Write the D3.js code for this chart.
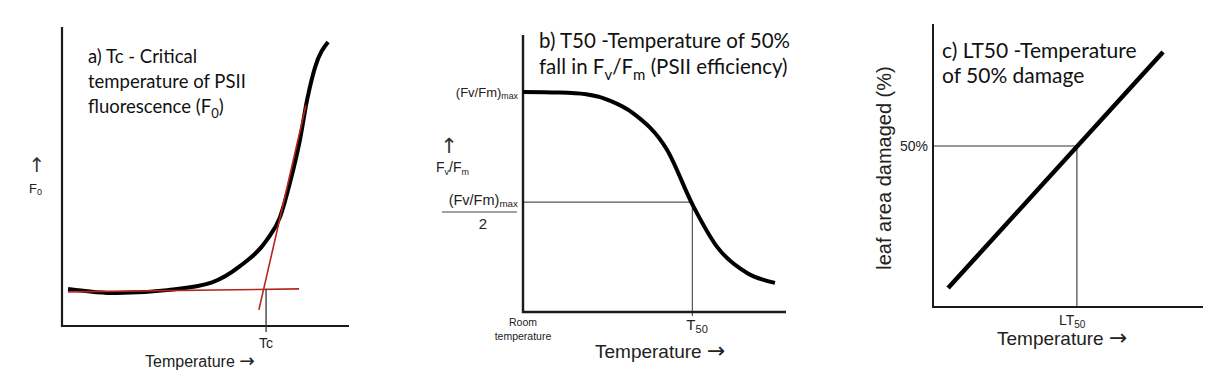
<!DOCTYPE html>
<html lang="en">
<head>
<meta charset="UTF-8">
<title>Heat tolerance measures</title>
<script src="https://d3js.org/d3.v7.min.js"></script>
<style>
  body { margin: 0; background: #fff; }
  .title { font-family: Lato, "Open Sans", sans-serif; fill: #111; }
  .lab { font-family: "Liberation Sans", Arial, sans-serif; fill: #222; }
  .arr { font-family: "DejaVu Sans", sans-serif; }
</style>
</head>
<body>
<svg width="1210" height="374"></svg>
<script>
// panel a : F0 rise with temperature (x, y in arbitrary units 0-100)
const curveA = [[2.1,12.4],[19,11.0],[36.6,12.0],[52.3,14.6],[62,20.0],[71.4,28.8],
                [76,36.5],[79.4,47.8],[82.9,62.2],[85.4,75.6],[88.2,86.6],[92.7,95]];
const baseLineA = [[2.1,11.4],[82.6,12.4]];
const steepLineA = [[68.6,5.4],[85.0,73.9]];
const tcValue = 71.1;

// panel b : Fv/Fm decline
const curveB = [[0,79.4],[14,79.2],[24,78.6],[33,76.3],[41.8,71.8],[54.8,58.5],
                [64.6,38.5],[73.8,23.5],[85.2,14.1],[95.8,10.5]];
const fvfmMax = 79.4;
const t50Value = 64.4;

// panel c : leaf damage
const lineC = [[5.6,5.9],[85.2,79.2]];
const damageHalf = 50;
const lt50Value = 53.3;

const UP = "\u2191\uFE0E", RIGHT = "\u2192\uFE0E";

const svg = d3.select("svg");
svg.append("rect").attr("width", 1210).attr("height", 374).attr("fill", "#fff");

const line = (x, y) => d3.line().x(d => x(d[0])).y(d => y(d[1]));

function axes(g, x, y, w) {
  const [x0] = x.range(), [y0, y1] = y.range();
  g.append("path")
    .attr("d", `M${x0},${y1}V${y0}H${x.range()[1]}`)
    .attr("fill", "none").attr("stroke", "#1a1a1a").attr("stroke-width", w);
}

function tempLabel(g, xx, yy, fs) {
  const t = g.append("text").attr("class", "lab").attr("x", xx).attr("y", yy).attr("font-size", fs);
  t.append("tspan").text("Temperature ");
  t.append("tspan").attr("class", "arr").attr("font-size", fs * 1.15).style("fill", "#222").text(RIGHT);
}

function upArrow(g, xx, yy, fs) {
  g.append("text").attr("class", "arr").attr("x", xx).attr("y", yy)
    .attr("text-anchor", "middle").attr("font-size", fs).style("fill", "#333").text(UP);
}

// ---------- a ----------
{
  const x = d3.scaleLinear().domain([0, 100]).range([62, 349]);
  const y = d3.scaleLinear().domain([0, 100]).range([326, 27]);
  const g = svg.append("g");
  axes(g, x, y, 2.2);
  g.append("path").datum(curveA)
    .attr("d", line(x, y).curve(d3.curveMonotoneX))
    .attr("fill", "none").attr("stroke", "#000").attr("stroke-width", 4);
  [baseLineA, steepLineA].forEach(l => g.append("path").datum(l)
    .attr("d", line(x, y)).attr("stroke", "#b5261e").attr("stroke-width", 1.6));
  g.append("line").attr("x1", x(tcValue)).attr("x2", x(tcValue))
    .attr("y1", y(12.3)).attr("y2", 332).attr("stroke", "#333").attr("stroke-width", 1.3);

  const t = g.append("text").attr("class", "title").attr("font-size", 18.5);
  t.append("tspan").attr("x", 88).attr("y", 63).text("a) Tc - Critical");
  t.append("tspan").attr("x", 88).attr("y", 88).text("temperature of PSII");
  t.append("tspan").attr("x", 88).attr("y", 113).text("fluorescence (F");
  t.append("tspan").attr("dy", 5).attr("font-size", 13).text("0");
  t.append("tspan").attr("dy", -5).text(")");

  upArrow(g, 37, 172, 20);
  const f0 = g.append("text").attr("class", "lab").attr("x", 29).attr("y", 193).attr("font-size", 13);
  f0.append("tspan").text("F");
  f0.append("tspan").attr("dy", 2).attr("font-size", 9).text("0");

  g.append("text").attr("class", "lab").attr("x", x(tcValue)).attr("y", 348)
    .attr("text-anchor", "middle").attr("font-size", 14).text("Tc");
  tempLabel(g, 145, 367, 16);
}

// ---------- b ----------
{
  const x = d3.scaleLinear().domain([0, 100]).range([523, 786]);
  const y = d3.scaleLinear().domain([0, 100]).range([312, 35]);
  const g = svg.append("g");
  g.append("path")
    .attr("d", `M${x(0)},${y(fvfmMax / 2)}H${x(t50Value)}V${y(0) + 4}`)
    .attr("fill", "none").attr("stroke", "#555").attr("stroke-width", 1.2);
  axes(g, x, y, 2.4);
  g.append("path").datum(curveB)
    .attr("d", line(x, y).curve(d3.curveMonotoneX))
    .attr("fill", "none").attr("stroke", "#000").attr("stroke-width", 4);

  const t = g.append("text").attr("class", "title").attr("font-size", 20.5);
  t.append("tspan").attr("x", 539).attr("y", 48).text("b) T50 -Temperature of 50%");
  t.append("tspan").attr("x", 539).attr("y", 74).text("fall in F");
  t.append("tspan").attr("dy", 6).attr("font-size", 15).text("v");
  t.append("tspan").attr("dy", -6).text("/F");
  t.append("tspan").attr("dy", 6).attr("font-size", 15).text("m");
  t.append("tspan").attr("dy", -6).text(" (PSII efficiency)");

  const maxLab = (yy, fs) => {
    const tx = g.append("text").attr("class", "lab").attr("x", 518).attr("y", yy)
      .attr("text-anchor", "end").attr("font-size", fs).attr("fill", "#3a3a3a");
    tx.append("tspan").text("(Fv/Fm)");
    tx.append("tspan").attr("dy", 2).attr("font-size", fs * 0.68).text("max");
  };
  maxLab(y(fvfmMax) + 5, 13);
  maxLab(y(fvfmMax / 2) + 3, 14.5);
  g.append("line").attr("x1", 442).attr("x2", 517).attr("y1", 212).attr("y2", 212)
    .attr("stroke", "#444").attr("stroke-width", 1.2);
  g.append("text").attr("class", "lab").attr("x", 483).attr("y", 229)
    .attr("text-anchor", "middle").attr("font-size", 15).text("2");

  upArrow(g, 449, 153, 21);
  const fl = g.append("text").attr("class", "lab").attr("x", 436).attr("y", 172).attr("font-size", 14);
  fl.append("tspan").text("F");
  fl.append("tspan").attr("dy", 3).attr("font-size", 9).text("v");
  fl.append("tspan").attr("dy", -3).text("/F");
  fl.append("tspan").attr("dy", 3).attr("font-size", 9).text("m");

  g.append("text").attr("class", "lab").attr("x", x(0)).attr("y", 326)
    .attr("text-anchor", "middle").attr("font-size", 10.5).attr("fill", "#444").text("Room");
  g.append("text").attr("class", "lab").attr("x", x(0)).attr("y", 340)
    .attr("text-anchor", "middle").attr("font-size", 10.5).attr("fill", "#444").text("temperature");

  const tl = g.append("text").attr("class", "lab").attr("x", x(t50Value) - 6).attr("y", 330).attr("font-size", 15);
  tl.append("tspan").text("T");
  tl.append("tspan").attr("dy", 3).attr("font-size", 11).text("50");
  tempLabel(g, 595, 358, 19);
}

// ---------- c ----------
{
  const x = d3.scaleLinear().domain([0, 100]).range([933, 1203]);
  const y = d3.scaleLinear().domain([0, 87.9]).range([307, 24]);
  const g = svg.append("g");
  g.append("path")
    .attr("d", `M${x(0)},${y(damageHalf)}H${x(lt50Value)}V${y(0)}`)
    .attr("fill", "none").attr("stroke", "#333").attr("stroke-width", 1.1);
  axes(g, x, y, 2);
  g.append("path").datum(lineC).attr("d", line(x, y))
    .attr("stroke", "#000").attr("stroke-width", 4.5);

  const t = g.append("text").attr("class", "title").attr("font-size", 21);
  t.append("tspan").attr("x", 942).attr("y", 58).text("c) LT50 -Temperature");
  t.append("tspan").attr("x", 942).attr("y", 83).text("of 50% damage");

  g.append("text").attr("class", "lab").attr("x", 928).attr("y", y(damageHalf) + 5)
    .attr("text-anchor", "end").attr("font-size", 14).attr("fill", "#3a3a3a").text("50%");
  g.append("text").attr("class", "lab")
    .attr("transform", "translate(891,168) rotate(-90)")
    .attr("text-anchor", "middle").attr("font-size", 20).text("leaf area damaged (%)");

  const ll = g.append("text").attr("class", "lab").attr("x", x(lt50Value) - 18).attr("y", 325).attr("font-size", 14);
  ll.append("tspan").text("LT");
  ll.append("tspan").attr("dy", 3).attr("font-size", 10).text("50");
  tempLabel(g, 997, 345, 19);
}
</script>
</body>
</html>
